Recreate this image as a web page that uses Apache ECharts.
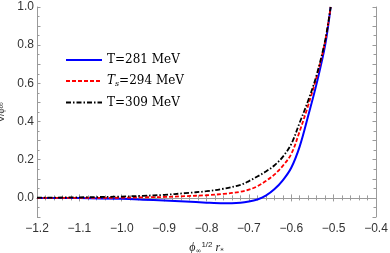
<!DOCTYPE html>
<html><head><meta charset="utf-8">
<script src="https://cdn.jsdelivr.net/npm/echarts@6/dist/echarts.min.js"></script>
<style>html,body{margin:0;padding:0;background:#fff}#c{width:390px;height:253px}</style>
</head><body><div id="c"></div>
<script>
var xs = [-1.2, -1.1, -1.0, -0.95, -0.9, -0.85, -0.8, -0.76, -0.72, -0.7, -0.68, -0.66, -0.64, -0.62, -0.6, -0.58, -0.56, -0.54, -0.52, -0.507];
var blue281 = [0.000, -0.001, -0.005, -0.009, -0.014, -0.019, -0.025, -0.028, -0.025, -0.019, -0.008, 0.012, 0.045, 0.092, 0.158, 0.27, 0.43, 0.60, 0.80, 1.0];
var red294 = [0.000, 0.000, 0.001, 0.003, 0.005, 0.009, 0.014, 0.021, 0.032, 0.043, 0.061, 0.088, 0.122, 0.168, 0.23, 0.35, 0.485, 0.635, 0.82, 1.0];
var black309 = [0.001, 0.003, 0.007, 0.011, 0.016, 0.025, 0.035, 0.048, 0.068, 0.088, 0.112, 0.138, 0.170, 0.215, 0.282, 0.395, 0.51, 0.645, 0.825, 1.0];
var names = ['T=281 MeV', 'Ts=294 MeV', 'T=309 MeV'];
var xTicks = ['-1.2', '-1.1', '-1.0', '-0.9', '-0.8', '-0.7', '-0.6', '-0.5', '-0.4'];
var yTicks = ['0.0', '0.2', '0.4', '0.6', '0.8', '1.0'];

function pairs(ys){ return xs.map(function(x,i){ return [x, ys[i]]; }); }
var chart = echarts.init(document.getElementById('c'));
var frame = '#9a9a9a';
function minus(s){ return s.replace('-', '\u2212'); }
var labelStyle = {color: '#333', fontSize: 12, fontFamily: 'Liberation Sans, Arial, sans-serif'};
function baseAxis(){
  return {
    type: 'value',
    axisLine: {show: true, lineStyle: {color: frame, width: 1}},
    axisTick: {show: true, inside: true, length: 3.5, lineStyle: {color: frame}},
    splitLine: {show: false}
  };
}
function xAxis(pos, showLabel){
  var a = baseAxis();
  a.position = pos; a.min = -1.2; a.max = -0.4; a.interval = 0.1;
  a.minorTick = {show: true, splitNumber: 5, length: 2.5, lineStyle: {color: frame}};
  a.axisLabel = Object.assign({show: showLabel, margin: 6, formatter: function(v){
    var s = v.toFixed(1); return xTicks.indexOf(s) >= 0 ? minus(s) : ''; }}, labelStyle);
  return a;
}
function yAxis(pos, showLabel){
  var a = baseAxis();
  a.position = pos; a.min = -0.1; a.max = 1.0; a.interval = 0.1;
  a.minorTick = {show: true, splitNumber: 2, length: 2.5, lineStyle: {color: frame}};
  a.axisLabel = Object.assign({show: showLabel, margin: 3, formatter: function(v){
    var s = v.toFixed(1); return yTicks.indexOf(s) >= 0 ? s : ''; }}, labelStyle);
  return a;
}
var xa = [xAxis('bottom', true), xAxis('top', false)];
xa[0].name = '{i|\u03d5}{sub|\u221e}{sup|1/2}{i| r}{sub|*}';
xa[0].nameLocation = 'middle';
xa[0].nameGap = 24;
xa[0].nameTextStyle = {color: '#222', fontSize: 12, fontFamily: 'Liberation Serif, serif',
  rich: {i: {fontStyle: 'italic', fontSize: 12, fontFamily: 'Liberation Serif, serif', color: '#222'},
         sub: {fontSize: 7, verticalAlign: 'bottom', padding: [6,0,0,0], color: '#222', fontFamily: 'DejaVu Sans, sans-serif'},
         sup: {fontSize: 8, verticalAlign: 'top', padding: [0,0,6,0], color: '#222', fontFamily: 'Liberation Sans, sans-serif'}}};
var ya = [yAxis('left', true), yAxis('right', false)];
ya[0].name = 'V/\u03d5\u221e';
ya[0].nameLocation = 'middle';
ya[0].nameGap = 29;
ya[0].nameTextStyle = {color: '#333', fontSize: 9, fontFamily: 'Liberation Sans, sans-serif'};

var option = {
  animation: false,
  backgroundColor: '#fff',
  grid: {left: 37, right: 14, top: 7, bottom: 36, containLabel: false, outerBoundsMode: 'none'},
  xAxis: xa,
  yAxis: ya,
  legend: {
    orient: 'vertical', left: 60, top: 49, itemGap: 9, itemWidth: 36, itemHeight: 14,
    data: names,
    itemStyle: {opacity: 0},
    formatter: function(n){
      if (n === 'Ts=294 MeV') return '{i|T}{sub|s}=294 MeV';
      return n;
    },
    textStyle: {color: '#000', fontSize: 12, fontFamily: 'DejaVu Serif, serif',
      rich: {i: {fontStyle: 'italic', fontSize: 12, fontFamily: 'DejaVu Serif, serif'},
             sub: {fontStyle: 'italic', fontSize: 8, verticalAlign: 'bottom', padding: [5,0,0,0], fontFamily: 'DejaVu Serif, serif'}}}
  },
  series: [
    {name: names[0], type: 'line', data: pairs(blue281), smooth: 0.35, symbol: 'none', clip: true,
     lineStyle: {color: '#0000ff', width: 2}, itemStyle: {color: '#0000ff'}},
    {name: names[1], type: 'line', data: pairs(red294), smooth: 0.35, symbol: 'none', clip: true,
     lineStyle: {color: '#ff0000', width: 1.8, type: [4, 2]}, itemStyle: {color: '#ff0000'}},
    {name: names[2], type: 'line', data: pairs(black309), smooth: 0.35, symbol: 'none', clip: true,
     lineStyle: {color: '#000', width: 1.8, type: [5, 2, 1.5, 2]}, itemStyle: {color: '#000'}}
  ]
};
chart.setOption(option);
</script></body></html>
